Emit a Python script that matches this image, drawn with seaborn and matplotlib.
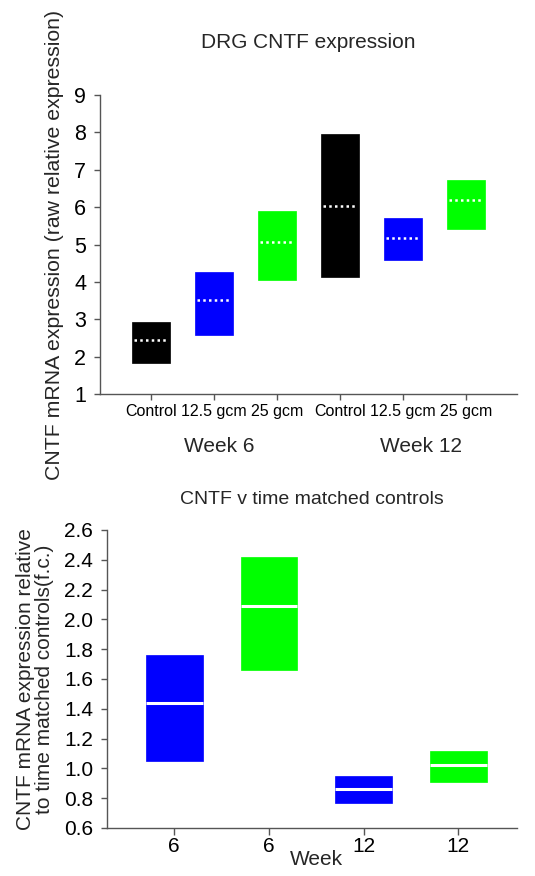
import numpy as np
import matplotlib
matplotlib.use("Agg")
import matplotlib.pyplot as plt
import matplotlib.transforms as mtransforms
import seaborn as sns

# top panel: raw relative expression (low / median / high per group)
raw_groups = ["W6 Control", "W6 12.5", "W6 25", "W12 Control", "W12 12.5", "W12 25"]
raw_ticklabels = ["Control", "12.5 gcm", "25 gcm", "Control", "12.5 gcm", "25 gcm"]
raw_low = [1.82, 2.57, 4.05, 4.12, 4.58, 5.42]
raw_high = [2.93, 4.26, 5.89, 7.96, 5.70, 6.74]
raw_median = [2.44, 3.51, 5.07, 6.03, 5.18, 6.18]
raw_colors = ["#000000", "#0000ff", "#00ff00", "#000000", "#0000ff", "#00ff00"]
week_labels = ["Week 6", "Week 12"]
raw_yticks = [1, 2, 3, 4, 5, 6, 7, 8, 9]

# bottom panel: fold change against time matched controls
fc_groups = ["6 / 12.5", "6 / 25", "12 / 12.5", "12 / 25"]
fc_ticklabels = ["6", "6", "12", "12"]
fc_low = [1.05, 1.66, 0.77, 0.91]
fc_high = [1.76, 2.42, 0.95, 1.12]
fc_median = [1.44, 2.09, 0.86, 1.02]
fc_colors = ["#0000ff", "#00ff00", "#0000ff", "#00ff00"]
fc_yticks = [0.6, 0.8, 1.0, 1.2, 1.4, 1.6, 1.8, 2.0, 2.2, 2.4, 2.6]

SPINE = "#555555"


def floating_bars(ax, groups, low, high, med, colors, width, inset, line_kw):
    ''' bars from low to high with a white line at the median '''
    height = np.array(high) - np.array(low)
    sns.barplot(x=groups, y=height, bottom=low, color="k", width=width,
                saturation=1, ax=ax)
    for patch, c in zip(ax.patches, colors):
        patch.set_facecolor(c)
        patch.set_edgecolor(c)
        patch.set_linewidth(0.5)
    pos = np.arange(len(groups))
    ax.hlines(med, pos - width / 2 + inset, pos + width / 2 - inset,
              colors="white", **line_kw)


def style_axes(ax):
    sns.despine(ax=ax)
    for side in ["left", "bottom"]:
        ax.spines[side].set_color(SPINE)
        ax.spines[side].set_linewidth(1)
    ax.tick_params(colors=SPINE, labelcolor="black", length=4, width=1)


def main():
    sns.set_style("ticks")
    plt.rcParams["font.family"] = ["Liberation Sans", "DejaVu Sans"]

    fig = plt.figure(figsize=(5.35, 8.76), dpi=100)

    # ---- top panel
    ax1 = fig.add_axes([0.1869, 0.5502, 0.7794, 0.3413])
    floating_bars(ax1, raw_groups, raw_low, raw_high, raw_median, raw_colors,
                  0.61, 0.04, dict(linestyles=(0, (1, 1.3)), linewidth=1.8))
    ax1.set_xlim(-0.81, 5.81)
    ax1.set_ylim(1, 9)
    ax1.set_yticks(raw_yticks)
    ax1.set_yticklabels([str(v) for v in raw_yticks], fontsize=15.5)
    ax1.set_xticks(range(len(raw_groups)))
    ax1.set_xticklabels(raw_ticklabels, fontsize=11.5)
    style_axes(ax1)
    ax1.tick_params(axis="y", pad=6)
    ax1.tick_params(axis="x", pad=3)
    ax1.set_title("DRG CNTF expression", fontsize=15, pad=34)
    ax1.set_ylabel("CNTF mRNA expression (raw relative expression)", fontsize=15.3)
    ax1.yaxis.set_label_coords(-0.087, 0.5)
    ax1.set_xlabel("")
    trans = mtransforms.blended_transform_factory(ax1.transData, ax1.transAxes)
    for xpos, lab in zip([1.08, 4.29], week_labels):
        ax1.text(xpos, -0.177, lab, transform=trans, ha="center", va="center",
                 fontsize=15)

    # ---- bottom panel
    ax2 = fig.add_axes([0.2, 0.0548, 0.7664, 0.3402])
    floating_bars(ax2, fc_groups, fc_low, fc_high, fc_median, fc_colors,
                  0.6, 0.0, dict(linestyles="solid", linewidth=2.2))
    ax2.set_xlim(-0.71, 3.62)
    ax2.set_ylim(0.6, 2.6)
    ax2.set_yticks(fc_yticks)
    ax2.set_yticklabels([f"{v:.1f}" for v in fc_yticks], fontsize=15)
    ax2.set_xticks(range(len(fc_groups)))
    ax2.set_xticklabels(fc_ticklabels, fontsize=15)
    style_axes(ax2)
    ax2.tick_params(axis="y", pad=6)
    ax2.tick_params(axis="x", pad=1.5, length=5)
    ax2.set_title("CNTF v time matched controls", fontsize=14, pad=19)
    ax2.set_ylabel("CNTF mRNA expression relative\nto time matched controls(f.c.)",
                   fontsize=15, linespacing=1.0)
    ax2.yaxis.set_label_coords(-0.129, 0.5)
    ax2.set_xlabel("Week", fontsize=15)
    ax2.xaxis.set_label_coords(0.51, -0.075)

    fig.savefig("out.png", dpi=100)


if __name__ == "__main__":
    main()
